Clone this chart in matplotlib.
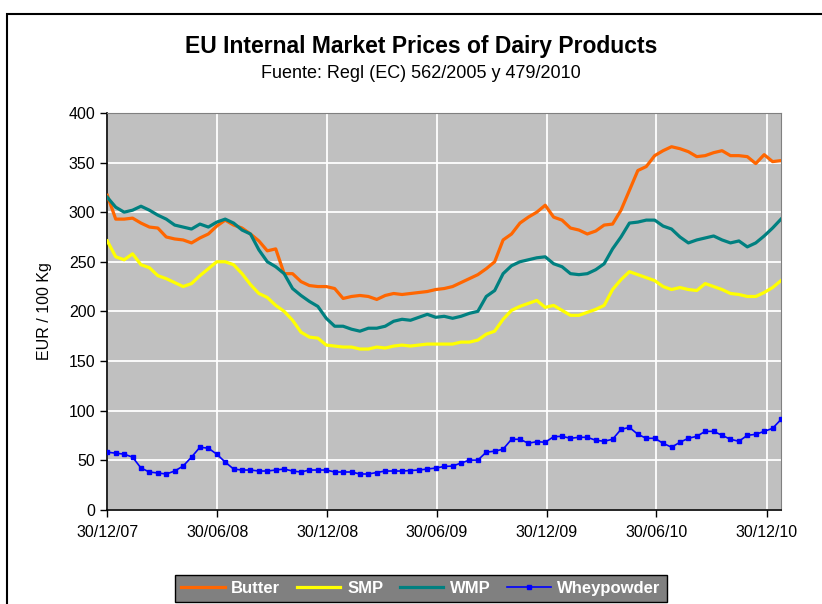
import pandas as pd
import matplotlib
matplotlib.use("Agg")
import matplotlib.pyplot as plt
import matplotlib.patches as patches

plt.rcParams['font.family'] = ['Liberation Sans', 'DejaVu Sans']

# biweekly observations from 30/12/2007
dates = pd.date_range('2007-12-30', periods=81, freq='14D')

butter = [317, 293, 293, 294, 289, 285, 284, 275, 273, 272,
          269, 274, 278, 286, 292, 287, 284, 278, 271, 261,
          263, 238, 238, 230, 226, 225, 225, 223, 213, 215,
          216, 215, 212, 216, 218, 217, 218, 219, 220, 222,
          223, 225, 229, 233, 237, 243, 250, 272, 278, 289,
          295, 300, 307, 295, 292, 284, 282, 278, 281, 287,
          288, 302, 322, 342, 346, 357, 362, 366, 364, 361,
          356, 357, 360, 362, 357, 357, 356, 349, 358, 351, 352]

smp = [271, 255, 252, 258, 247, 244, 236, 233, 229, 225,
       228, 236, 243, 250, 250, 247, 238, 227, 218, 214,
       206, 200, 191, 179, 174, 173, 166, 165, 164, 164,
       162, 162, 164, 163, 165, 166, 165, 166, 167, 167,
       167, 167, 169, 169, 171, 177, 180, 192, 201, 205,
       208, 211, 204, 206, 201, 196, 196, 199, 202, 206,
       222, 232, 240, 237, 234, 231, 225, 222, 224, 222,
       221, 228, 225, 222, 218, 217, 215, 215, 219, 224, 231]

wmp = [315, 305, 300, 302, 306, 302, 297, 293, 287, 285,
       283, 288, 285, 290, 293, 289, 282, 278, 262, 250,
       245, 238, 223, 216, 210, 205, 193, 185, 185, 182,
       180, 183, 183, 185, 190, 192, 191, 194, 197, 194,
       195, 193, 195, 198, 200, 215, 221, 238, 246, 250,
       252, 254, 255, 248, 245, 238, 237, 238, 242, 248,
       263, 275, 289, 290, 292, 292, 286, 283, 275, 269,
       272, 274, 276, 272, 269, 271, 265, 269, 276, 284, 293]

whey = [58, 57, 56, 53, 42, 38, 37, 36, 39, 44,
        53, 63, 62, 56, 48, 41, 40, 40, 39, 39,
        40, 41, 39, 38, 40, 40, 40, 38, 38, 38,
        36, 36, 37.5, 39, 39, 39, 39.5, 40, 41, 42,
        43.6, 44, 47, 50, 50, 58, 59, 61, 71, 71,
        67, 68.6, 68, 73.6, 74, 72, 73, 73, 70, 69,
        71, 81, 83, 76, 72, 72, 67, 63, 68, 72,
        74, 79, 79, 75, 71, 69, 75, 76, 79, 82, 91]

tick_dates = pd.to_datetime(['2007-12-30', '2008-06-30', '2008-12-30', '2009-06-30',
                             '2009-12-30', '2010-06-30', '2010-12-30'])
tick_labels = ['30/12/07', '30/06/08', '30/12/08', '30/06/09',
               '30/12/09', '30/06/10', '30/12/10']

fig = plt.figure(figsize=(8.22, 6.04), dpi=100)
ax = fig.add_axes([107.3 / 822, 1 - 509.7 / 604, 673.7 / 822, 396.7 / 604])
ax.set_facecolor('#C0C0C0')

ax.plot(dates, butter, color='#FF6600', lw=2.3, label='Butter', zorder=3)
ax.plot(dates, smp, color='#FFFF00', lw=2.3, label='SMP', zorder=3)
ax.plot(dates, wmp, color='#008080', lw=2.3, label='WMP', zorder=3)
ax.plot(dates, whey, color='#0000FF', lw=1.2, marker='s', markersize=2.5,
        label='Wheypowder', zorder=3)

ax.set_xlim(dates[0], dates[-1])
ax.set_ylim(0, 400)
ax.set_yticks(range(0, 401, 50))
ax.set_xticks(tick_dates)
ax.set_xticklabels(tick_labels)
ax.tick_params(labelsize=11.5, length=5, width=1)
ax.tick_params(axis='x', pad=6)
ax.grid(True, color='white', lw=1.3, zorder=0)
ax.set_axisbelow(True)
for s in ['top', 'right']:
    ax.spines[s].set_color('#808080')
for s in ['left', 'bottom']:
    ax.spines[s].set_linewidth(1.2)
ax.set_ylabel('EUR / 100 Kg', fontsize=11.5, labelpad=12)

fig.text(421 / 822, 1 - 47 / 604, 'EU Internal Market Prices of Dairy Products',
         ha='center', va='center', fontsize=16.5, fontweight='bold')
fig.text(421 / 822, 1 - 73 / 604, 'Fuente: Regl (EC) 562/2005 y 479/2010',
         ha='center', va='center', fontsize=13)

leg = fig.legend(loc='upper center', bbox_to_anchor=(421 / 822, 1 - 567 / 604),
                 ncol=4, frameon=True, fancybox=False, fontsize=12,
                 handlelength=2.6, columnspacing=1.0, handletextpad=0.4,
                 borderpad=0.35, numpoints=1)
leg.get_frame().set_facecolor('#808080')
leg.get_frame().set_edgecolor('black')
leg.get_frame().set_alpha(1)
for t in leg.get_texts():
    t.set_color('white')
    t.set_fontweight('bold')

# chart border
fig.patches.append(patches.Rectangle((7 / 822, -0.1), 1.2, 1.1 - 14 / 604,
                                     transform=fig.transFigure, fill=False,
                                     edgecolor='black', lw=1.5))

fig.savefig('out.png', dpi=100)
